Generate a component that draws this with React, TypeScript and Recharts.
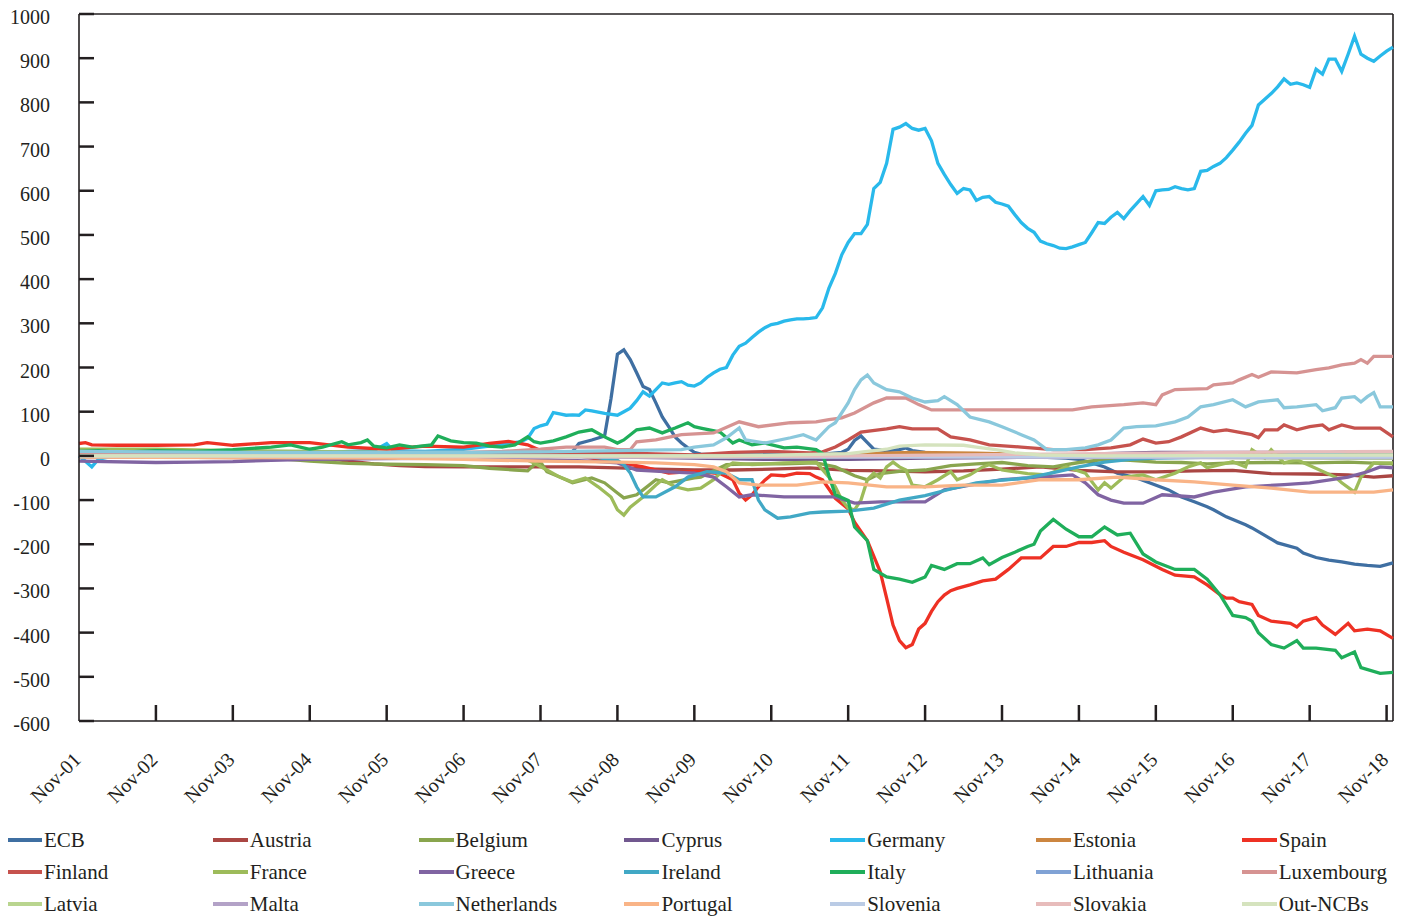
import React from 'react';
import { LineChart, Line, XAxis, YAxis, ReferenceLine } from 'recharts';

type Pt = [number, number];

// month index: 0 = Nov-01 ... 205 = Dec-18
const tickMonths = [0, 12, 24, 36, 48, 60, 72, 84, 96, 108, 120, 132, 144, 156, 168, 180, 192, 204];
const tickLabels = ['Nov-01', 'Nov-02', 'Nov-03', 'Nov-04', 'Nov-05', 'Nov-06', 'Nov-07', 'Nov-08', 'Nov-09', 'Nov-10', 'Nov-11', 'Nov-12', 'Nov-13', 'Nov-14', 'Nov-15', 'Nov-16', 'Nov-17', 'Nov-18'];
const yTicks = [-600, -500, -400, -300, -200, -100, 0, 100, 200, 300, 400, 500, 600, 700, 800, 900, 1000];

const ecb: Pt[] = [[0,0],[72,0],[76,2],[77,10],[78,28],[80,36],[82,45],[83,130],[84,230],[85,240],[86,218],[87,188],[88,157],[89,150],[90,120],[91,88],[92,66],[93,43],[94,29],[95,18],[96,8],[97,4],[100,2],[110,3],[117,5],[119,8],[120,15],[121,35],[122,45],[123,30],[124,15],[126,12],[128,14],[129,18],[130,12],[132,8],[136,3],[144,0],[150,-3],[154,-5],[156,-8],[158,-16],[160,-25],[162,-39],[165,-50],[167,-61],[170,-77],[172,-93],[174,-104],[176,-115],[177,-122],[179,-138],[182,-156],[183,-163],[185,-180],[187,-197],[190,-209],[191,-220],[193,-230],[195,-236],[197,-240],[199,-245],[201,-248],[203,-250],[204,-246],[205,-242]];
const austria: Pt[] = [[0,-2],[12,-3],[24,-4],[36,-5],[40,-8],[42,-12],[46,-18],[50,-22],[54,-24],[60,-25],[66,-25],[72,-25],[78,-25],[84,-27],[90,-30],[96,-32],[102,-32],[108,-30],[114,-27],[120,-33],[126,-34],[132,-36],[138,-34],[144,-30],[150,-25],[156,-33],[162,-36],[168,-36],[174,-34],[180,-33],[186,-40],[192,-41],[198,-43],[202,-48],[205,-45]];
const belgium: Pt[] = [[0,0],[12,-2],[24,-3],[30,-5],[36,-12],[42,-17],[48,-19],[54,-20],[60,-22],[64,-28],[68,-32],[70,-34],[71,-20],[72,-14],[73,-36],[75,-48],[77,-61],[80,-50],[82,-61],[84,-84],[85,-95],[87,-88],[88,-77],[90,-54],[92,-61],[96,-50],[97,-48],[101,-20],[105,-18],[110,-18],[115,-16],[118,-25],[121,-45],[123,-54],[125,-40],[128,-35],[132,-32],[136,-22],[140,-18],[144,-15],[148,-22],[152,-25],[156,-15],[160,-8],[164,-10],[168,-14],[172,-15],[176,-18],[180,-16],[186,-15],[192,-16],[198,-14],[205,-18]];
const cyprus: Pt[] = [[0,0],[80,0],[84,-3],[96,-5],[108,-8],[120,-8],[132,-5],[144,-4],[156,0],[160,5],[168,8],[180,8],[192,8],[205,7]];
const germany: Pt[] = [[0,0],[1,-12],[2,-25],[3,-8],[6,2],[12,5],[18,3],[24,6],[30,8],[36,5],[42,10],[46,12],[48,28],[49,12],[54,10],[60,15],[64,22],[67,28],[69,32],[70,40],[71,62],[72,68],[73,72],[74,98],[75,95],[76,92],[77,93],[78,92],[79,104],[80,102],[82,96],[84,92],[85,100],[86,108],[87,125],[88,145],[89,135],[90,150],[91,165],[92,162],[93,165],[94,168],[95,160],[96,158],[97,165],[98,178],[99,188],[100,196],[101,200],[102,228],[103,248],[104,255],[105,268],[106,280],[107,290],[108,297],[109,300],[110,305],[111,308],[112,310],[113,310],[114,311],[115,313],[116,335],[117,380],[118,413],[119,455],[120,483],[121,503],[122,503],[123,524],[124,605],[125,619],[126,662],[127,739],[128,744],[129,752],[130,741],[131,737],[132,741],[133,713],[134,662],[135,637],[136,614],[137,594],[138,605],[139,602],[140,578],[141,585],[142,587],[143,574],[144,570],[145,565],[146,546],[147,528],[148,515],[149,506],[150,486],[151,480],[152,476],[153,470],[154,469],[155,473],[156,478],[157,483],[158,505],[159,528],[160,526],[161,540],[162,551],[163,537],[164,555],[165,571],[166,587],[167,567],[168,600],[169,602],[170,603],[171,609],[172,605],[173,602],[174,605],[175,644],[176,646],[177,655],[178,662],[179,675],[180,692],[181,710],[182,730],[183,748],[184,794],[185,807],[186,820],[187,835],[188,853],[189,841],[190,844],[191,840],[192,834],[193,875],[194,864],[195,898],[196,898],[197,870],[198,909],[199,950],[200,909],[201,900],[202,893],[203,905],[204,916],[205,925]];
const estonia: Pt[] = [[0,0],[108,0],[112,2],[120,4],[130,8],[140,6],[150,3],[160,2],[205,2]];
const spain: Pt[] = [[0,28],[1,30],[2,25],[6,24],[12,24],[18,25],[20,30],[24,24],[30,30],[36,30],[42,20],[48,15],[54,22],[60,20],[64,28],[67,33],[70,25],[72,12],[76,5],[80,-5],[84,-14],[88,-25],[92,-39],[96,-35],[100,-40],[102,-54],[103,-84],[104,-100],[105,-88],[106,-70],[107,-55],[108,-43],[110,-45],[112,-39],[114,-40],[115,-48],[116,-54],[117,-75],[118,-96],[120,-120],[121,-150],[123,-192],[125,-262],[126,-322],[127,-383],[128,-418],[129,-434],[130,-427],[131,-392],[132,-379],[133,-352],[134,-330],[135,-315],[136,-305],[137,-300],[139,-292],[141,-283],[143,-279],[145,-257],[147,-231],[150,-231],[152,-205],[154,-205],[156,-196],[158,-196],[160,-192],[161,-205],[163,-218],[166,-235],[169,-257],[171,-270],[174,-274],[176,-292],[178,-314],[179,-322],[180,-322],[181,-330],[183,-336],[184,-361],[186,-374],[189,-379],[190,-387],[191,-374],[193,-366],[194,-383],[196,-404],[198,-379],[199,-396],[201,-392],[203,-396],[205,-413]];
const finland: Pt[] = [[0,3],[24,3],[48,5],[60,5],[72,5],[84,7],[96,2],[102,8],[108,10],[114,7],[116,9],[118,20],[120,36],[122,54],[126,61],[128,66],[130,61],[134,61],[136,43],[139,36],[142,25],[147,20],[152,14],[157,14],[161,18],[164,25],[166,38],[168,29],[170,32],[172,43],[175,63],[177,55],[179,59],[183,48],[184,41],[185,59],[187,59],[188,70],[190,59],[192,66],[194,70],[195,59],[197,70],[199,63],[203,63],[205,43]];
const france: Pt[] = [[0,15],[12,15],[24,12],[36,10],[48,8],[60,5],[66,0],[70,-10],[71,-16],[73,-32],[75,-48],[77,-59],[79,-50],[81,-70],[83,-93],[84,-122],[85,-134],[86,-116],[88,-93],[90,-66],[91,-54],[93,-70],[95,-77],[97,-73],[99,-54],[101,-25],[102,-16],[105,-20],[110,-16],[115,-14],[117,-48],[118,-70],[119,-100],[120,-118],[121,-122],[122,-100],[123,-54],[124,-39],[125,-50],[126,-25],[127,-14],[128,-25],[129,-32],[130,-66],[132,-70],[134,-54],[136,-36],[137,-54],[139,-43],[141,-25],[142,-20],[144,-32],[148,-40],[151,-43],[154,-25],[157,-39],[159,-77],[160,-61],[161,-73],[163,-48],[166,-43],[168,-54],[171,-39],[173,-25],[175,-16],[176,-27],[178,-20],[180,-13],[182,-25],[183,14],[185,-5],[186,14],[188,-16],[190,-9],[196,-48],[197,-61],[199,-82],[200,-48],[202,-16],[205,-16]];
const greece: Pt[] = [[0,-12],[12,-15],[18,-14],[24,-13],[30,-10],[36,-8],[48,-6],[60,-5],[72,-8],[80,-12],[84,-16],[87,-32],[92,-36],[96,-39],[99,-48],[101,-70],[103,-93],[105,-88],[110,-93],[118,-93],[121,-107],[125,-104],[132,-104],[135,-77],[139,-66],[144,-54],[150,-48],[155,-43],[157,-61],[159,-88],[161,-100],[163,-107],[166,-107],[169,-88],[174,-93],[177,-82],[182,-70],[188,-65],[192,-61],[198,-48],[201,-36],[203,-25],[205,-27]];
const ireland: Pt[] = [[0,0],[72,0],[80,-2],[84,-10],[85,-20],[86,-39],[87,-70],[88,-93],[90,-93],[93,-70],[95,-48],[98,-36],[101,-39],[103,-54],[105,-54],[106,-100],[107,-122],[109,-141],[111,-138],[114,-129],[116,-127],[120,-125],[124,-118],[128,-100],[132,-90],[136,-75],[140,-61],[144,-55],[148,-50],[152,-38],[156,-25],[160,-14],[164,-8],[168,-5],[180,-2],[186,0],[192,5],[198,9],[205,9]];
const italy: Pt[] = [[0,10],[3,12],[6,8],[12,12],[18,10],[24,14],[30,20],[33,25],[36,15],[38,20],[41,32],[42,25],[44,30],[45,36],[46,22],[48,18],[50,25],[52,20],[55,25],[56,45],[58,34],[60,30],[62,29],[64,22],[66,20],[68,25],[70,43],[71,32],[72,29],[74,34],[76,43],[78,54],[80,59],[82,43],[84,29],[85,36],[87,59],[89,63],[91,52],[93,63],[95,75],[96,66],[97,63],[100,54],[102,29],[103,36],[105,25],[107,29],[110,18],[112,20],[115,14],[116,5],[117,-45],[118,-88],[120,-101],[121,-161],[123,-192],[124,-257],[126,-274],[128,-279],[130,-286],[132,-274],[133,-248],[135,-257],[137,-244],[139,-244],[141,-231],[142,-246],[144,-230],[146,-218],[148,-205],[149,-200],[150,-170],[152,-144],[154,-166],[156,-183],[158,-183],[160,-161],[162,-179],[164,-175],[166,-222],[168,-240],[171,-257],[174,-257],[176,-279],[178,-314],[180,-361],[182,-366],[183,-374],[184,-400],[186,-427],[188,-435],[190,-418],[191,-435],[193,-435],[196,-440],[197,-457],[199,-444],[200,-479],[203,-492],[205,-490]];
const lithuania: Pt[] = [[0,0],[160,0],[170,-3],[190,-4],[205,-5]];
const luxembourg: Pt[] = [[0,5],[24,6],[48,8],[60,8],[66,10],[72,15],[76,20],[82,20],[84,14],[86,14],[87,32],[90,36],[94,48],[99,52],[103,77],[106,66],[111,75],[115,77],[117,82],[119,86],[121,97],[124,120],[126,131],[129,131],[131,116],[133,104],[140,104],[147,104],[155,104],[158,111],[163,116],[166,120],[168,116],[169,138],[171,150],[176,152],[177,161],[180,165],[181,172],[183,184],[184,178],[186,190],[190,188],[193,195],[195,199],[197,206],[199,210],[200,218],[201,210],[202,225],[205,225]];
const latvia: Pt[] = [[0,0],[150,0],[160,-3],[180,-4],[205,-5]];
const malta: Pt[] = [[0,0],[80,0],[100,-2],[140,-3],[205,-4]];
const netherlands: Pt[] = [[0,10],[24,8],[48,8],[60,8],[72,9],[84,12],[94,14],[96,20],[99,25],[101,41],[103,63],[104,36],[107,29],[111,41],[113,48],[115,36],[117,66],[118,75],[120,120],[121,150],[122,172],[123,183],[124,165],[126,150],[128,145],[130,131],[132,122],[134,125],[135,134],[137,116],[139,88],[142,77],[144,66],[147,48],[149,36],[151,14],[154,14],[157,18],[159,25],[161,36],[163,63],[165,66],[168,68],[171,77],[173,88],[175,111],[177,116],[180,127],[182,111],[184,122],[187,127],[188,109],[190,111],[193,116],[194,102],[196,109],[197,131],[199,134],[200,122],[201,134],[202,143],[203,111],[205,111]];
const portugal: Pt[] = [[0,-3],[24,-4],[48,-5],[60,-8],[72,-12],[84,-14],[90,-16],[96,-20],[99,-25],[101,-36],[103,-61],[106,-66],[112,-66],[116,-59],[120,-61],[126,-70],[132,-70],[138,-66],[144,-66],[150,-54],[156,-54],[162,-48],[168,-54],[174,-59],[180,-66],[186,-73],[192,-82],[198,-82],[202,-82],[205,-77]];
const slovenia: Pt[] = [[0,0],[72,-2],[100,-3],[140,-2],[205,-3]];
const slovakia: Pt[] = [[0,0],[90,-2],[120,0],[160,5],[180,8],[205,10]];
const outNcbs: Pt[] = [[0,0],[100,0],[110,2],[120,5],[126,15],[128,22],[132,25],[138,24],[140,20],[143,14],[146,7],[150,2],[160,0],[205,2]];

const seriesNames = ['ECB', 'Austria', 'Belgium', 'Cyprus', 'Germany', 'Estonia', 'Spain', 'Finland', 'France', 'Greece', 'Ireland', 'Italy', 'Lithuania', 'Luxembourg', 'Latvia', 'Malta', 'Netherlands', 'Portugal', 'Slovenia', 'Slovakia', 'Out-NCBs'];
const seriesColors = ['#3F6FA2', '#AA4643', '#89A54E', '#71588F', '#29B9EB', '#CC8640', '#EE3124', '#C6524D', '#9DBB5A', '#8064A2', '#41A8C5', '#1FAE5A', '#80A2D5', '#D69392', '#B9D58F', '#B3A2C7', '#8AC8DC', '#F9B487', '#BACBE5', '#E7BCBB', '#D5E3BE'];
const seriesData: Pt[][] = [ecb, austria, belgium, cyprus, germany, estonia, spain, finland, france, greece, ireland, italy, lithuania, luxembourg, latvia, malta, netherlands, portugal, slovenia, slovakia, outNcbs];

const rows: Record<string, number>[] = [];
for (let m = 0; m <= 205; m++) rows.push({ m });
seriesData.forEach((pts, i) => {
  pts.forEach(([m, v]) => {
    rows[m][seriesNames[i]] = v;
  });
});

const FONT = "'Liberation Serif', 'Times New Roman', serif";
const INK = '#231F20';

const YTick = (props: any) => {
  const { x, y, payload } = props;
  return (
    <g>
      <line x1={x} x2={x + 15} y1={y} y2={y} stroke={INK} strokeWidth={2.5} />
      <text x={x - 29} y={y + 3} textAnchor="end" dominantBaseline="central" fontFamily={FONT} fontSize={20} fill={INK}>
        {payload.value}
      </text>
    </g>
  );
};

const XTick = (props: any) => {
  const { x, y, payload } = props;
  const idx = tickMonths.indexOf(payload.value);
  const label = idx >= 0 ? tickLabels[idx] : '';
  const tx = x + 3;
  const ty = y + 40;
  return (
    <g>
      {payload.value !== 0 && <line x1={x} x2={x} y1={y} y2={y - 16} stroke={INK} strokeWidth={2.5} />}
      <text x={tx} y={ty} textAnchor="end" transform={`rotate(-45 ${tx} ${ty})`} fontFamily={FONT} fontSize={20} fill={INK}>
        {label}
      </text>
    </g>
  );
};

export default function App() {
  return (
    <div style={{ position: 'relative', width: 1395, height: 918, marginTop: -8 }}>
      <LineChart width={1395} height={828} data={rows} margin={{ top: 14, right: 10, left: 0, bottom: 0 }}>
        <XAxis
          dataKey="m"
          type="number"
          domain={[0, 205]}
          ticks={tickMonths}
          interval={0}
          height={107}
          tickSize={0}
          tickMargin={0}
          tick={<XTick />}
          tickLine={false}
          axisLine={{ stroke: INK, strokeWidth: 1.6 }}
          allowDecimals={false}
        />
        <YAxis
          type="number"
          domain={[-600, 1000]}
          ticks={yTicks}
          interval={0}
          width={71}
          tickSize={0}
          tickMargin={0}
          tick={<YTick />}
          tickLine={false}
          axisLine={{ stroke: INK, strokeWidth: 1.6 }}
        />
        <ReferenceLine y={1000} stroke={INK} strokeWidth={1.6} />
        <ReferenceLine x={205} stroke={INK} strokeWidth={1.6} />
        {seriesNames.map((name, i) => (
          <Line
            key={name}
            type="linear"
            dataKey={name}
            name={name}
            stroke={seriesColors[i]}
            strokeWidth={3.3}
            dot={false}
            activeDot={false}
            connectNulls
            isAnimationActive={false}
          />
        ))}
      </LineChart>
      {seriesNames.map((name, i) => {
        const col = i % 7;
        const row = Math.floor(i / 7);
        const left = -1 + col * 205.8;
        const top = 828 + row * 32;
        return (
          <div
            key={name}
            style={{ position: 'absolute', left, top, height: 24, lineHeight: '24px', display: 'flex', alignItems: 'center', fontFamily: FONT, fontSize: 21, color: INK, whiteSpace: 'nowrap' }}
          >
            <span style={{ display: 'inline-block', width: 35, height: 4, background: seriesColors[i], marginRight: 2 }} />
            <span>{name}</span>
          </div>
        );
      })}
    </div>
  );
}
